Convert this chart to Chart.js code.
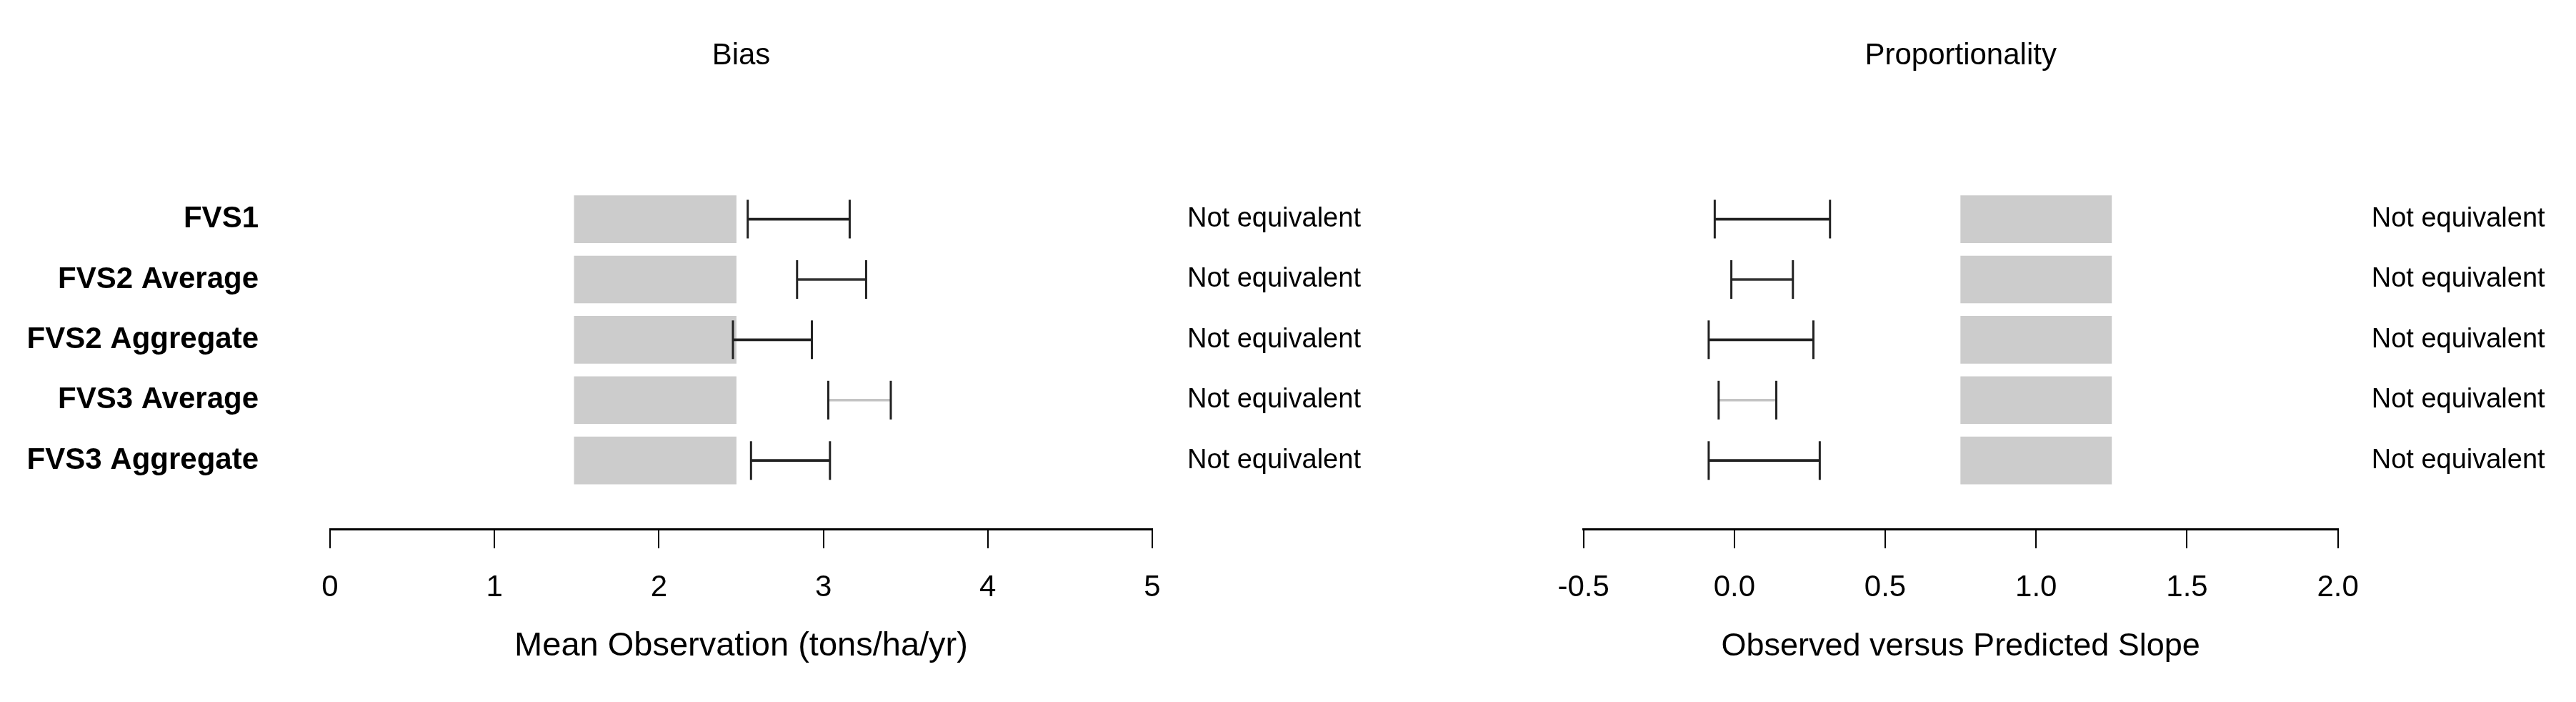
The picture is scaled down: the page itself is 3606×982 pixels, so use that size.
<!DOCTYPE html>
<html>
<head>
<meta charset="utf-8">
<script src="https://cdn.jsdelivr.net/npm/chart.js@4.4.1/dist/chart.umd.min.js"></script>
<style>
html,body{margin:0;padding:0;background:#fff;width:3606px;height:982px;overflow:hidden}
canvas{position:absolute;top:0}
#c1{left:0}
#c2{left:1960px}
</style>
</head>
<body>
<canvas id="c1" width="1960" height="982"></canvas>
<canvas id="c2" width="1646" height="982"></canvas>
<script>
// ---- data ----
const categories = ['FVS1', 'FVS2 Average', 'FVS2 Aggregate', 'FVS3 Average', 'FVS3 Aggregate'];

const biasRegion = [1.485, 2.47];
const biasLower = [2.54, 2.84, 2.45, 3.03, 2.56];
const biasUpper = [3.16, 3.26, 2.93, 3.41, 3.04];
const biasStatus = ['Not equivalent', 'Not equivalent', 'Not equivalent', 'Not equivalent', 'Not equivalent'];
const biasTicks = [0, 1, 2, 3, 4, 5];
const biasTickLabels = ['0', '1', '2', '3', '4', '5'];

const slopeRegion = [0.75, 1.25];
const slopeLower = [-0.065, -0.01, -0.085, -0.052, -0.085];
const slopeUpper = [0.317, 0.194, 0.262, 0.139, 0.283];
const slopeStatus = ['Not equivalent', 'Not equivalent', 'Not equivalent', 'Not equivalent', 'Not equivalent'];
const slopeTicks = [-0.5, 0, 0.5, 1, 1.5, 2];
const slopeTickLabels = ['-0.5', '0.0', '0.5', '1.0', '1.5', '2.0'];

// interval line shades (one is drawn light grey in the source figure)
const lineShade = ['#222222', '#333333', '#222222', '#c4c4c4', '#222222'];

// ---- chart ----
Chart.defaults.font.family = "'Liberation Sans', Arial, Helvetica, sans-serif";
Chart.defaults.color = '#000';

function makeChart(canvasId, cfg) {
  const rows = categories.map((c, i) => i + 1);
  const datasets = [
    {
      type: 'bar',
      data: rows.map(r => ({ y: r, x: cfg.region })),
      backgroundColor: '#cccccc',
      borderWidth: 0,
      barThickness: 66,
      grouped: false,
      order: 3
    },
    {
      type: 'bar',
      data: rows.map((r, i) => ({ y: r, x: [cfg.lower[i], cfg.upper[i]] })),
      backgroundColor: lineShade,
      borderWidth: 0,
      barThickness: 3,
      grouped: false,
      order: 2
    },
    {
      type: 'scatter',
      data: rows.map((r, i) => ({ x: cfg.lower[i], y: r })).concat(rows.map((r, i) => ({ x: cfg.upper[i], y: r }))),
      pointStyle: 'line',
      rotation: 90,
      pointRadius: 27,
      pointHoverRadius: 27,
      borderColor: '#222222',
      borderWidth: 3,
      showLine: false,
      order: 1
    }
  ];
  const rowTicks = (s) => { s.ticks = rows.map(v => ({ value: v })); };
  const yMin = 0.5, yMax = 6.136;
  return new Chart(document.getElementById(canvasId), {
    type: 'bar',
    data: { datasets },
    options: {
      indexAxis: 'y',
      responsive: false,
      animation: false,
      events: [],
      layout: { padding: { left: cfg.padLeft, right: 0, top: 0, bottom: 0 } },
      plugins: {
        legend: { display: false },
        tooltip: { enabled: false },
        title: {
          display: true,
          text: cfg.title,
          fullSize: false,
          color: '#000',
          font: { size: 42, weight: 'normal' },
          padding: { top: 53, bottom: 161 }
        }
      },
      scales: {
        x: {
          type: 'linear',
          position: 'bottom',
          offset: false,
          min: cfg.ticks[0],
          max: cfg.ticks[cfg.ticks.length - 1],
          afterBuildTicks: (s) => { s.ticks = cfg.ticks.map(v => ({ value: v })); },
          afterFit: (s) => { s.height = 242; },
          grid: { display: true, offset: false, drawOnChartArea: false, drawTicks: true, tickLength: 27, color: '#000', lineWidth: 2 },
          border: { display: true, color: '#000', width: 3 },
          ticks: {
            padding: 30,
            color: '#000',
            font: { size: 42 },
            maxRotation: 0,
            autoSkip: false,
            callback: (v) => { const k = cfg.ticks.indexOf(v); return k >= 0 ? cfg.tickLabels[k] : ''; }
          },
          title: {
            display: true,
            text: cfg.xTitle,
            color: '#000',
            font: { size: cfg.xTitleSize },
            padding: { top: 0, bottom: 50 }
          }
        },
        y: {
          type: 'linear',
          display: cfg.showNames,
          position: 'left',
          reverse: true,
          offset: false,
          min: yMin,
          max: yMax,
          afterBuildTicks: rowTicks,
          afterFit: (s) => { s.width = cfg.showNames ? 462 : 0; },
          grid: { display: false, offset: false, drawTicks: false },
          border: { display: false },
          ticks: {
            padding: 100,
            color: '#000',
            font: { size: 42, weight: 'bold' },
            autoSkip: false,
            callback: (v) => categories[v - 1] ?? ''
          }
        },
        y2: {
          type: 'linear',
          position: 'right',
          reverse: true,
          offset: false,
          min: yMin,
          max: yMax,
          afterBuildTicks: rowTicks,
          afterFit: (s) => { s.width = cfg.rightWidth; },
          grid: { display: false, offset: false, drawTicks: false },
          border: { display: false },
          ticks: {
            padding: cfg.statusPad,
            color: '#000',
            font: { size: 38 },
            autoSkip: false,
            callback: (v) => cfg.status[v - 1] ?? ''
          }
        }
      }
    }
  });
}

makeChart('c1', {
  title: 'Bias',
  xTitle: 'Mean Observation (tons/ha/yr)',
  xTitleSize: 47,
  region: biasRegion,
  lower: biasLower,
  upper: biasUpper,
  status: biasStatus,
  ticks: biasTicks,
  tickLabels: biasTickLabels,
  showNames: true,
  padLeft: 0,
  rightWidth: 347,
  statusPad: 49
});

makeChart('c2', {
  title: 'Proportionality',
  xTitle: 'Observed versus Predicted Slope',
  xTitleSize: 45,
  region: slopeRegion,
  lower: slopeLower,
  upper: slopeUpper,
  status: slopeStatus,
  ticks: slopeTicks,
  tickLabels: slopeTickLabels,
  showNames: false,
  padLeft: 256.6,
  rightWidth: 333.3,
  statusPad: 47
});
</script>
</body>
</html>
